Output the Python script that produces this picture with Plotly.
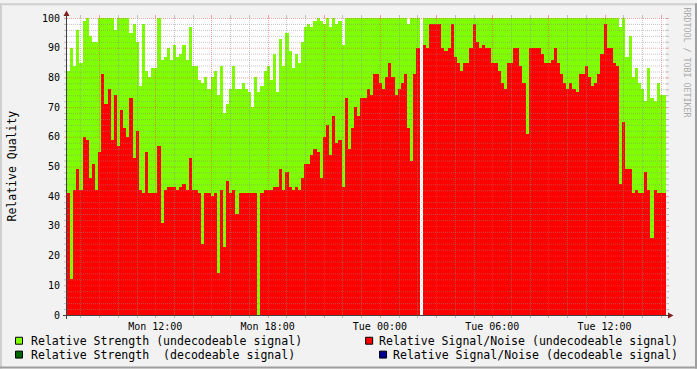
import numpy as np
import pandas as pd
import plotly.graph_objects as go

# ---------------- data ----------------
start_time = "2024-01-01 07:17"   # a Monday
bin_minutes = 10

strength_undecodeable = [
    82, 90, 84, 96, 85, 99, 100, 94, 92, 92,
    100, 100, 100, 100, 100, 96, 100, 100, 100, 100,
    95, 98, 92, 77, 98, 82, 80, 83, 83, 100,
    86, 87, 90, 86, 91, 87, 88, 91, 86, 97,
    84, 84, 79, 78, 80, 76, 80, 82, 74, 84,
    68, 71, 76, 84, 76, 76, 78, 76, 75, 70,
    80, 75, 77, 82, 84, 79, 88, 75, 93, 84,
    95, 89, 83, 88, 85, 92, 97, 98, 97, 99,
    100, 99, 98, 100, 97, 100, 98, 99, 91, 100,
    100, 100, 100, 100, 100, 100, 100, 100, 100, 100,
    100, 100, 100, 100, 100, 100, 100, 100, 100, 98,
    100, 100, 100, None, 100, 100, 100, 100, 100, 100,
    100, 100, 100, 100, 100, 100, 100, 100, 100, 100,
    100, 100, 100, 100, 100, 100, 100, 100, 100, 100,
    100, 100, 100, 100, 100, 100, 100, 100, 100, 100,
    100, 100, 100, 100, 100, 100, 100, 100, 100, 100,
    100, 100, 100, 100, 100, 100, 100, 100, 100, 100,
    100, 100, 100, 100, 100, 100, 100, 97, 100, 87,
    94, 80, 83, 78, 76, 72, 83, 73, 72, 78,
    74, 74,
]

snr_undecodeable = [
    41, 12, 42, 49, 42, 60, 59, 46, 51, 42,
    55, 81, 71, 76, 59, 74, 57, 69, 63, 60,
    73, 53, 62, 42, 41, 55, 41, 41, 41, 57,
    31, 42, 43, 43, 43, 42, 43, 44, 42, 53,
    42, 42, 41, 24, 41, 41, 40, 41, 14, 42,
    23, 45, 41, 42, 34, 41, 41, 41, 41, 41,
    41, 0, 41, 42, 42, 42, 43, 43, 49, 42,
    48, 43, 42, 43, 42, 46, 51, 51, 54, 56,
    55, 46, 60, 64, 54, 67, 58, 59, 43, 73,
    56, 63, 70, 67, 73, 73, 76, 74, 81, 81,
    78, 76, 80, 85, 80, 74, 76, 78, 81, 63,
    52, 81, 90, None, 91, 90, 98, 98, 98, 98,
    90, 89, 90, 98, 87, 85, 82, 85, 85, 90,
    98, 92, 90, 91, 90, 90, 85, 85, 82, 78,
    76, 85, 85, 90, 90, 84, 78, 61, 90, 90,
    90, 90, 88, 85, 85, 86, 90, 85, 81, 78,
    76, 78, 76, 75, 81, 81, 84, 80, 77, 78,
    81, 88, 98, 90, 90, 85, 84, 44, 65, 49,
    49, 41, 42, 41, 41, 48, 42, 26, 42, 41,
    41, 41,
]

x_tick_labels = ["Mon 12:00", "Mon 18:00", "Tue 00:00", "Tue 06:00", "Tue 12:00"]
x_tick_times = ["2024-01-01 12:00", "2024-01-01 18:00", "2024-01-02 00:00",
                "2024-01-02 06:00", "2024-01-02 12:00"]
y_ticks = list(range(0, 101, 10))

legend_names = [
    "Relative Strength (undecodeable signal)",
    "Relative Signal/Noise (undecodeable signal)",
    "Relative Strength\u00a0 (decodeable signal)",
    "Relative Signal/Noise (decodeable signal)",
]
legend_colors = ["#7FFF00", "#FF0000", "#006400", "#000090"]

# ---------------- figure ----------------
n = len(snr_undecodeable)
t0 = pd.Timestamp(start_time)
centers = [t0 + pd.Timedelta(minutes=bin_minutes * (i + 0.5)) for i in range(n)]
t_end = t0 + pd.Timedelta(minutes=bin_minutes * n)
bar_w = bin_minutes * 60 * 1000

fig = go.Figure()
fig.add_trace(go.Bar(x=centers, y=strength_undecodeable, width=bar_w,
                     marker=dict(color=legend_colors[0], line=dict(width=0)),
                     name=legend_names[0], hoverinfo="skip"))
fig.add_trace(go.Bar(x=centers, y=snr_undecodeable, width=bar_w,
                     marker=dict(color=legend_colors[1], line=dict(width=0)),
                     name=legend_names[1], hoverinfo="skip"))

W, H, L, T = 599, 300, 67, 15
FULL_W, FULL_H = 697, 369


def pxx(px):
    return (px - L) / W


def pxy(py):
    return (T + H - py) / H


MONO = "DejaVu Sans Mono"
GRID = "rgba(140,140,140,0.5)"
MGRID = "rgba(222,79,79,0.5)"
AXIS = "#404040"
ARROW = "#801F1F"

shapes = []

# horizontal grid
for v in range(2, 101, 2):
    row = T + H - v * H / 100
    yy = pxy(row + 0.5)
    col = MGRID if v % 10 == 0 else GRID
    shapes.append(dict(type="line", xref="paper", yref="paper", x0=0, x1=1, y0=yy, y1=yy,
                       line=dict(color=col, width=1, dash="1px,1px"), layer="above"))
    for a, b in ((L - 3, L), (L + W, L + W + 3)):
        shapes.append(dict(type="line", xref="paper", yref="paper", x0=pxx(a), x1=pxx(b),
                           y0=yy, y1=yy, line=dict(color=col, width=1), layer="above"))

# vertical grid (hourly, major every 3h)
total_h = (t_end - t0) / pd.Timedelta(hours=1)
hr = t0.ceil("h")
while hr < t_end:
    frac = (hr - t0) / pd.Timedelta(hours=1) / total_h
    colpx = round(L + frac * W) + 0.5
    xx = pxx(colpx)
    col = MGRID if hr.hour % 3 == 0 else GRID
    shapes.append(dict(type="line", xref="paper", yref="paper", x0=xx, x1=xx, y0=0, y1=1,
                       line=dict(color=col, width=1, dash="1px,1px"), layer="above"))
    for a, b in ((T + H, T + H + 3), (T - 3, T)):
        shapes.append(dict(type="line", xref="paper", yref="paper", x0=xx, x1=xx,
                           y0=pxy(a), y1=pxy(b), line=dict(color=col, width=1), layer="above"))
    hr += pd.Timedelta(hours=1)

# axes lines + arrows
shapes.append(dict(type="line", xref="paper", yref="paper", x0=pxx(63), x1=pxx(670),
                   y0=pxy(315.5), y1=pxy(315.5), line=dict(color=AXIS, width=1), layer="above"))
shapes.append(dict(type="line", xref="paper", yref="paper", x0=pxx(66.5), x1=pxx(66.5),
                   y0=pxy(319), y1=pxy(11), line=dict(color=AXIS, width=1), layer="above"))
shapes.append(dict(type="path", xref="paper", yref="paper",
                   path=f"M {pxx(668)} {pxy(312.5)} L {pxx(668)} {pxy(318.5)} L {pxx(673.5)} {pxy(315.5)} Z",
                   fillcolor=ARROW, line=dict(width=0), layer="above"))
shapes.append(dict(type="path", xref="paper", yref="paper",
                   path=f"M {pxx(63.5)} {pxy(13)} L {pxx(69.5)} {pxy(13)} L {pxx(66.5)} {pxy(7.5)} Z",
                   fillcolor=ARROW, line=dict(width=0), layer="above"))

# frame shading
shapes += [
    dict(type="rect", xref="paper", yref="paper", x0=pxx(0), x1=pxx(FULL_W), y0=pxy(0), y1=pxy(2),
         fillcolor="#CFCFCF", line=dict(width=0), layer="above"),
    dict(type="rect", xref="paper", yref="paper", x0=pxx(0), x1=pxx(2), y0=pxy(0), y1=pxy(FULL_H),
         fillcolor="#CFCFCF", line=dict(width=0), layer="above"),
    dict(type="rect", xref="paper", yref="paper", x0=pxx(0), x1=pxx(FULL_W), y0=pxy(FULL_H - 2), y1=pxy(FULL_H),
         fillcolor="#9E9E9E", line=dict(width=0), layer="above"),
    dict(type="rect", xref="paper", yref="paper", x0=pxx(FULL_W - 2), x1=pxx(FULL_W), y0=pxy(0), y1=pxy(FULL_H),
         fillcolor="#9E9E9E", line=dict(width=0), layer="above"),
]

annotations = []
# legend (rrdtool style)
leg_rows = [(341, 0, 30, "left"), (341, 1, 679, "right"), (355, 2, 30, "left"), (355, 3, 679, "right")]
char_w = 6.95
for ycen, idx, xpos, anchor in leg_rows:
    name = legend_names[idx]
    text_start = xpos if anchor == "left" else xpos - len(name) * char_w
    bx0 = text_start - 15
    shapes.append(dict(type="rect", xref="paper", yref="paper",
                       x0=pxx(bx0 + 0.5), x1=pxx(bx0 + 7.5), y0=pxy(ycen - 3.5), y1=pxy(ycen + 3.5),
                       fillcolor=legend_colors[idx], line=dict(color="black", width=1), layer="above"))
    annotations.append(dict(xref="paper", yref="paper", x=pxx(xpos), y=pxy(ycen),
                            xanchor=anchor, yanchor="middle", showarrow=False, text=name,
                            font=dict(family=MONO, size=11.55, color="black"), borderpad=0))

annotations.append(dict(xref="paper", yref="paper", x=pxx(11), y=pxy(165), text="Relative Quality",
                        textangle=-90, showarrow=False, xanchor="center", yanchor="middle",
                        font=dict(family=MONO, size=11.5, color="black")))
annotations.append(dict(xref="paper", yref="paper", x=pxx(687), y=pxy(60), text="RRDTOOL / TOBI OETIKER",
                        textangle=90, showarrow=False, xanchor="center", yanchor="middle",
                        font=dict(family=MONO, size=8.3, color="#AAAAAA")))

fig.update_layout(
    width=FULL_W, height=FULL_H,
    margin=dict(l=L, r=FULL_W - L - W, t=T, b=FULL_H - T - H, pad=0),
    paper_bgcolor="#F2F2F2", plot_bgcolor="white",
    barmode="overlay", bargap=0, showlegend=False,
    shapes=shapes, annotations=annotations,
    xaxis=dict(type="date", range=[t0, t_end], tickvals=x_tick_times, ticktext=x_tick_labels,
               ticks="outside", ticklen=2, tickcolor="rgba(0,0,0,0)",
               showgrid=False, zeroline=False, showline=False, fixedrange=True,
               tickfont=dict(family=MONO, size=10, color="black")),
    yaxis=dict(range=[0, 100], tickvals=y_ticks, ticks="outside", ticklen=4,
               tickcolor="rgba(0,0,0,0)", showgrid=False, zeroline=False, showline=False,
               fixedrange=True, tickfont=dict(family=MONO, size=10, color="black")),
)

fig.write_html("out.html")
